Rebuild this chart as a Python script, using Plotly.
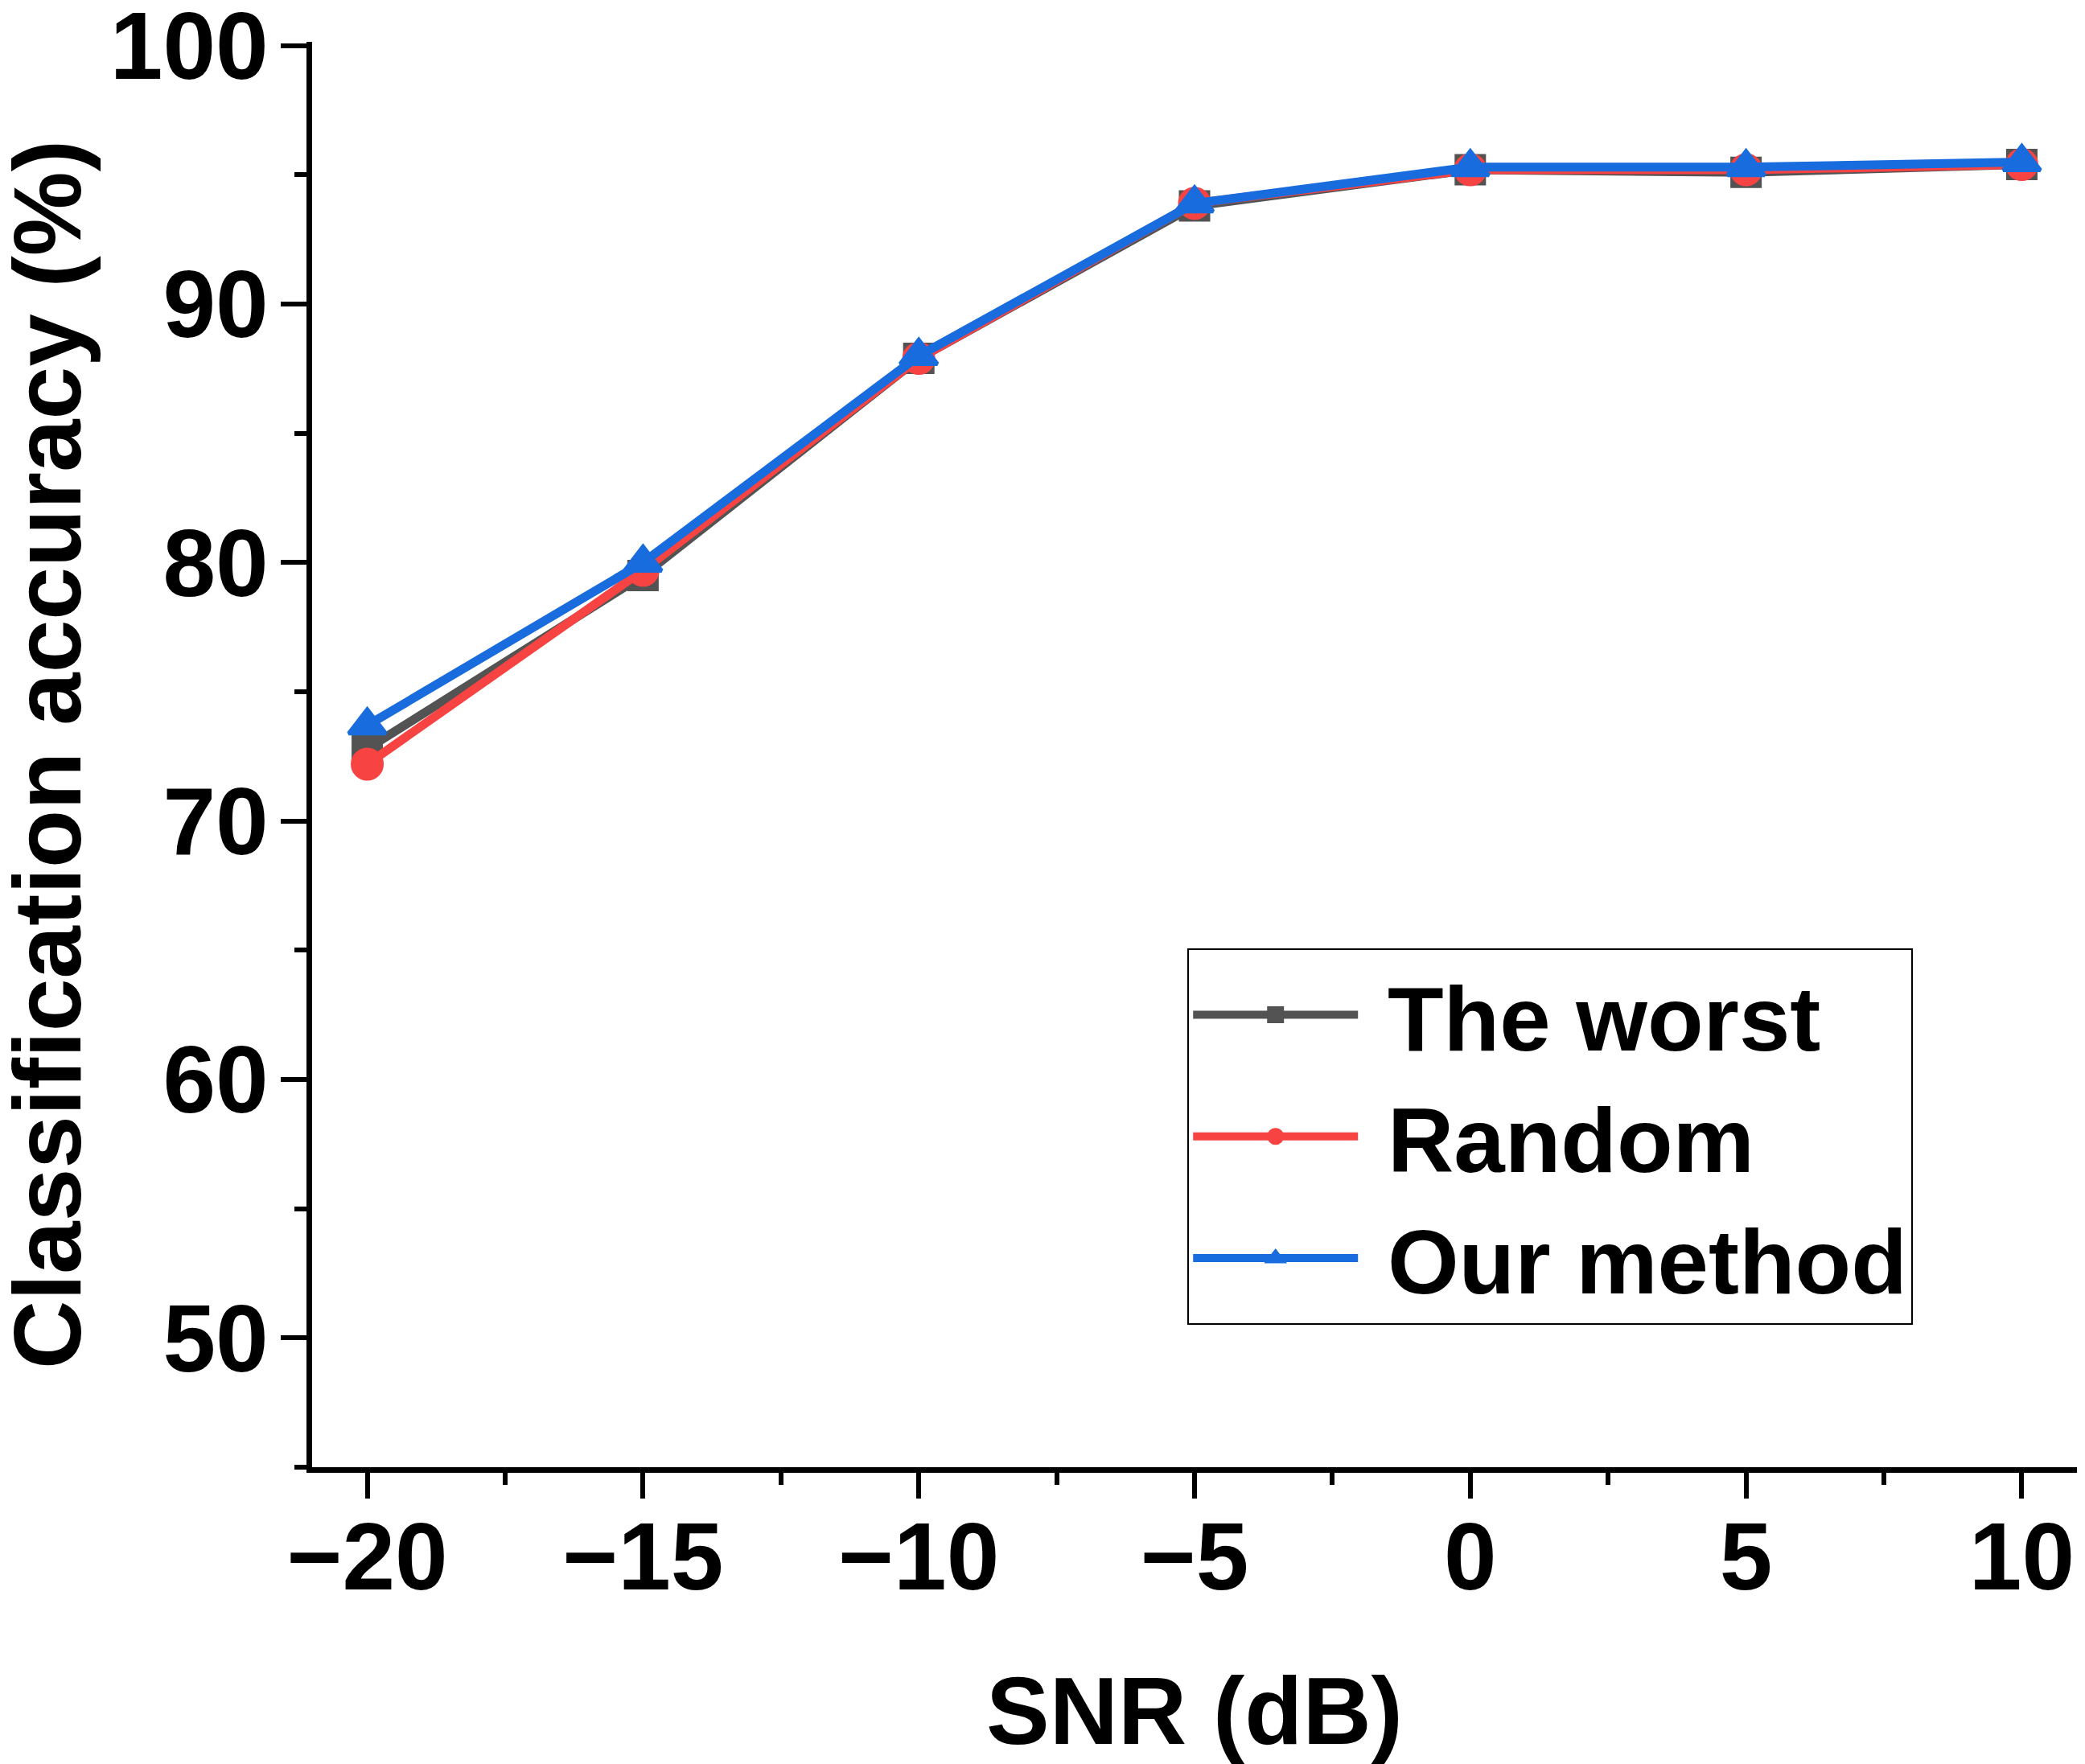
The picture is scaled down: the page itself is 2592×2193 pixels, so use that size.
import plotly.graph_objects as go

snr = [-20, -15, -10, -5, 0, 5, 10]
worst = [72.8, 79.5, 87.9, 93.8, 95.2, 95.1, 95.4]
random_sel = [72.2, 79.7, 87.9, 93.9, 95.2, 95.2, 95.4]
ours = [73.7, 80.0, 88.0, 93.9, 95.3, 95.3, 95.5]

names = ["The worst", "Random", "Our method"]
colors = ["#535353", "#F84343", "#186CDD"]
symbols = ["square", "circle", "triangle-up"]
sizes = [34, 36, 40]
series = [worst, random_sel, ours]

x_ticks = [-20, -15, -10, -5, 0, 5, 10]
y_ticks = [50, 60, 70, 80, 90, 100]

FONT = "Liberation Sans, Arial, sans-serif"

fig = go.Figure()
for name, ys, c, s, sz in zip(names, series, colors, symbols, sizes):
    fig.add_trace(go.Scatter(
        x=snr, y=ys, name="\u00a0" + name, mode="lines+markers",
        line=dict(color=c, width=11),
        marker=dict(symbol=s, size=sz, color=c, line=dict(color=c, width=5)),
    ))

axis_common = dict(
    showline=True, linecolor="black", linewidth=6.5,
    ticks="outside", tickcolor="black", tickwidth=6, ticklen=32,
    showgrid=False, zeroline=False, ticklabeloverflow="allow",
    automargin=False,
    tickfont=dict(family=FONT, size=118, color="black", weight="bold"),
    title_font=dict(family=FONT, size=118, color="black", weight="bold"),
)

fig.update_xaxes(
    range=[-21, 11], tickmode="array", tickvals=x_ticks,
    minor=dict(dtick=2.5, tick0=-20, ticks="outside", ticklen=15, tickwidth=6, tickcolor="black"),
    title_text="SNR (dB)", title_standoff=95, ticklabelstandoff=-28,
    **axis_common,
)
fig.update_yaxes(
    range=[45, 100.15], tickmode="array", tickvals=y_ticks,
    minor=dict(dtick=5, tick0=45, ticks="outside", ticklen=15, tickwidth=6, tickcolor="black"),
    ticklabelstandoff=-8,
    **axis_common,
)

# y-axis title as a rotated annotation (lets it sit closer to the page edge)
fig.add_annotation(
    text="Classification accuracy (%)", textangle=-90,
    xref="paper", yref="paper", x=0, y=0.5, xanchor="center", yanchor="middle",
    xshift=-329, showarrow=False,
    font=dict(family=FONT, size=118, color="black", weight="bold"),
)

fig.update_layout(
    width=2584, height=2185,
    margin=dict(l=380, r=10, t=44, b=369),
    paper_bgcolor="white", plot_bgcolor="white",
    showlegend=True,
    legend=dict(
        x=0.496, y=0.364, xanchor="left", yanchor="top",
        bordercolor="black", borderwidth=2, bgcolor="white",
        font=dict(family=FONT, size=114, color="black", weight="bold"),
        itemwidth=205, tracegroupgap=0,
    ),
)

fig.write_html("out.html")
